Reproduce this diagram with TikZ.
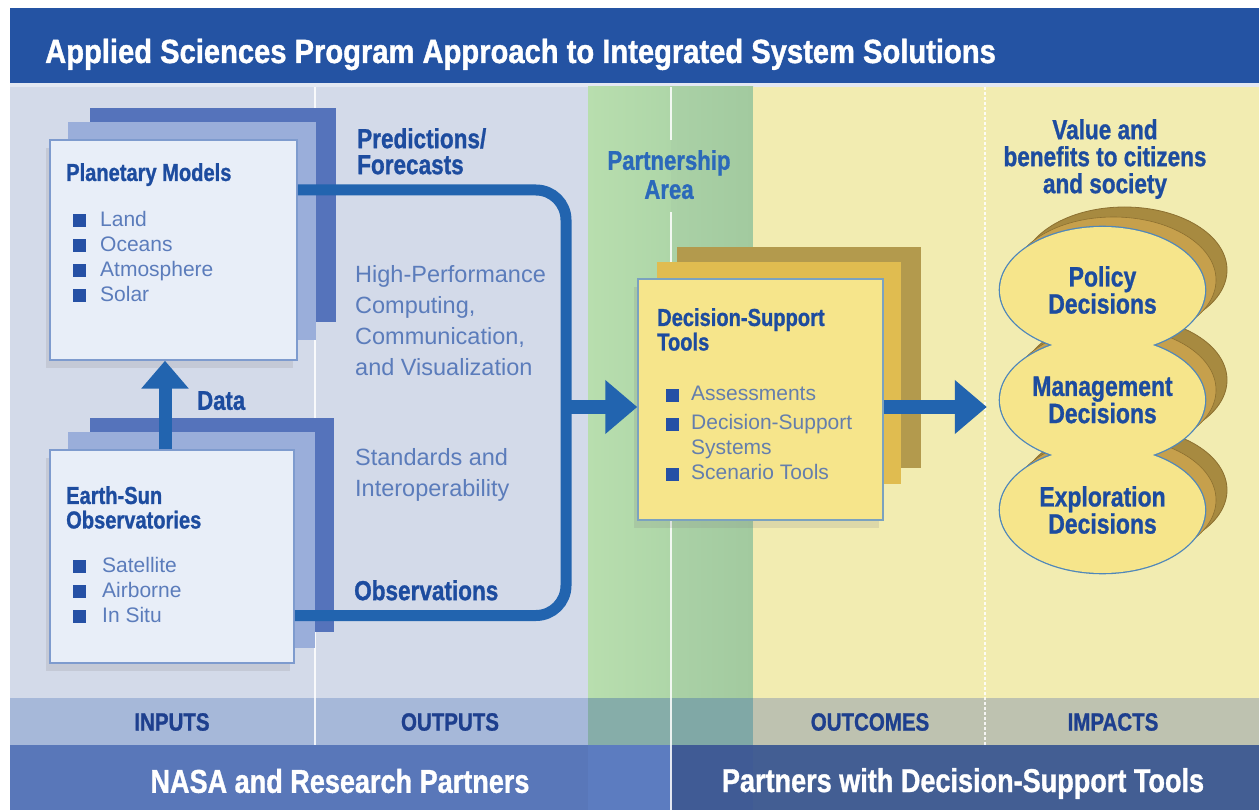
\documentclass[tikz,border=0pt]{standalone}
\usepackage{fontspec}
\setmainfont{Liberation Sans}
\newfontfamily\cndf{Liberation Sans}[FakeStretch=0.82, BoldFeatures={FakeBold=1.0}]
\newfontfamily\ttlf{Liberation Sans}[FakeStretch=0.87, BoldFeatures={FakeBold=1.2}]
\usetikzlibrary{arrows.meta,shapes.geometric,shadows}
\definecolor{titleblue}{HTML}{2453A3}
\definecolor{lightstrip}{HTML}{E3E8F2}
\definecolor{bodyblue}{HTML}{D3DAE9}
\definecolor{greenA}{HTML}{B8DEAE}
\definecolor{greenB}{HTML}{AED6A8}
\definecolor{greenC}{HTML}{AAD1A6}
\definecolor{greenD}{HTML}{A2CA9F}
\definecolor{bodyyellow}{HTML}{F2ECB1}
\definecolor{rowblue}{HTML}{A6B8D9}
\definecolor{rowteal}{HTML}{86ADA9}
\definecolor{rowtealB}{HTML}{80A8A6}
\definecolor{rowgray}{HTML}{BEC2B0}
\definecolor{botblue}{HTML}{5977B9}
\definecolor{botblueA}{HTML}{5C7CC0}
\definecolor{botdark}{HTML}{435E93}
\definecolor{botdarkB}{HTML}{405B95}
\definecolor{navy}{HTML}{1E3F8E}
\definecolor{darkblue}{HTML}{1D4C9F}
\definecolor{partblue}{HTML}{2B69BA}
\definecolor{lightblue}{HTML}{5B7CBB}
\definecolor{dstgray}{HTML}{647EAD}
\definecolor{flowblue}{HTML}{2264AF}
\definecolor{bulletblue}{HTML}{2550A5}
\definecolor{backdark}{HTML}{5573BB}
\definecolor{backmid}{HTML}{9AAEDA}
\definecolor{frontfill}{HTML}{E8EEF8}
\definecolor{frontborder}{HTML}{7E9BCE}
\definecolor{goldD}{HTML}{B39A4D}
\definecolor{goldM}{HTML}{E0BC50}
\definecolor{dstfill}{HTML}{F6E58B}
\definecolor{dstborder}{HTML}{7BA2BF}
\definecolor{brownD}{HTML}{A78A40}
\definecolor{brownM}{HTML}{C6A04C}
\definecolor{brownE}{HTML}{8C7030}
\definecolor{ellyellow}{HTML}{F6E58B}
\definecolor{elledge}{HTML}{4F87BA}
\newcommand\fsz[2]{\fontsize{#1pt}{#2pt}\selectfont}
\newcommand\blt[1]{\makebox[#1pt][l]{\textcolor{bulletblue}{\rule[-1pt]{13pt}{13pt}}}}
\begin{document}
\begin{tikzpicture}[x=1pt,y=-1pt,
  txt/.style={inner sep=0pt, anchor=north west, align=left},
  boldlbl/.style={txt, text=darkblue, font=\cndf\bfseries\fsz{27.5}{26}},
  boxtitle/.style={txt, text=darkblue, font=\cndf\bfseries\fsz{24.5}{24.5}},
  bullist/.style={txt, text=lightblue, font=\fsz{21}{25}},
  regtxt/.style={txt, text=lightblue, font=\fsz{23.5}{31}},
  rowlbl/.style={inner sep=0pt, text=navy, font=\cndf\bfseries\fsz{25}{25}},
  botlbl/.style={inner sep=0pt, text=white, font=\cndf\bfseries\fsz{33}{33}},
  frontbox/.style={draw=frontborder, line width=1.5pt, fill=frontfill, inner sep=0pt,
     drop shadow={shadow xshift=-4pt, shadow yshift=-8pt, opacity=0.18}},
  dstbox/.style={draw=dstborder, line width=1.5pt, fill=dstfill, inner sep=0pt,
     drop shadow={shadow xshift=-4pt, shadow yshift=-8pt, opacity=0.18}},
  flow/.style={draw=flowblue, line width=11pt},
  bigarrow/.style={draw=flowblue, line width=13pt, -{Triangle[length=32pt,width=52pt]}},
  ellnode/.style={ellipse, fill=ellyellow, minimum width=205pt, minimum height=126pt,
     inner xsep=-40pt, inner ysep=0pt, text=darkblue, align=center,
     font=\cndf\bfseries\fsz{28}{26}},
  divider/.style={draw=white, line width=1.2pt, opacity=0.85}
]
\useasboundingbox (0,0) rectangle (1259,810);
\fill[white] (0,0) rectangle (1259,810);
% ---- title bar
\fill[titleblue] (10,8) rectangle (1259,83);
\fill[lightstrip] (10,83) rectangle (1259,87);
\node[anchor=base west, inner sep=0pt, text=white, font=\ttlf\bfseries\fsz{33.5}{34}] (title) at (45,63)
  {Applied Sciences Program Approach to Integrated System Solutions};
% ---- body regions
\fill[bodyblue] (10,87) rectangle (588,698);
\shade[left color=greenA, right color=greenB] (588,87) rectangle (671,698);
\shade[left color=greenC, right color=greenD] (671,87) rectangle (753,698);
\fill[bodyyellow] (753,87) rectangle (1259,698);
% ---- label row
\fill[rowblue] (10,698) rectangle (588,745);
\fill[rowteal] (588,698) rectangle (671,745);
\fill[rowtealB] (671,698) rectangle (753,745);
\fill[rowgray] (753,698) rectangle (1259,745);
% ---- bottom row
\fill[botblue] (10,745) rectangle (588,810);
\fill[botblueA] (588,745) rectangle (671,810);
\fill[botdarkB] (671,745) rectangle (753,810);
\fill[botdark] (753,745) rectangle (1259,810);
% ---- dividers
\draw[divider] (315,87) -- (315,745);
\draw[divider] (671,87) -- (671,140);
\draw[divider] (671,212) -- (671,810);
\draw[divider, dash pattern=on 3pt off 2pt] (985,87) -- (985,745);
% ---- row labels
\node[rowlbl] (inp) at (172,722) {INPUTS};
\node[rowlbl] (outp) at (450,722) {OUTPUTS};
\node[rowlbl] (outc) at (870,722) {OUTCOMES};
\node[rowlbl] (imp) at (1113,722) {IMPACTS};
\node[botlbl] (nasa) at (340,781) {NASA and Research Partners};
\node[botlbl, anchor=base] (pdst) at (963,792) {Partners with Decision-Support Tools};
% ---- Planetary models stack
\fill[backdark] (90,108) rectangle (336,322);
\fill[backmid] (68,122) rectangle (316,340);
\node[frontbox, minimum width=247pt, minimum height=220pt] (pm) at (173.5,250) {};
\node[boxtitle] (pmt) at (66,163) {Planetary Models};
\node[bullist] (pml) at (73,211) {\blt{27}Land\\\blt{27}Oceans\\\blt{27}Atmosphere\\\blt{27}Solar};
% ---- Earth-Sun stack
\fill[backdark] (90,418) rectangle (334,632);
\fill[backmid] (68,432) rectangle (315,648);
\node[frontbox, minimum width=244pt, minimum height=213pt] (es) at (172,556.5) {};
\node[boxtitle] (est) at (66,486) {Earth-Sun\\Observatories};
\node[bullist] (esl) at (73,557) {\blt{29}Satellite\\\blt{29}Airborne\\\blt{29}In Situ};
% ---- Data arrow
\draw[bigarrow, -{Triangle[length=28pt,width=46pt]}] ([xshift=-7pt]es.north) -- ([xshift=-8.5pt]pm.south);
\node[boldlbl, font=\cndf\bfseries\fsz{27}{26}] (data) at (197,391) {Data};
% ---- Decision-support stack
\fill[goldD] (677,247) rectangle (921,468);
\fill[goldM] (657,262) rectangle (901,484);
\node[dstbox, minimum width=245pt, minimum height=241pt] (dst) at (760.5,399.5) {};
\node[boxtitle] (dstt) at (657,308) {Decision-Support\\Tools};
\node[bullist, text=dstgray] (dstl) at (666,386)
  {\blt{25}Assessments\\[4pt]\blt{25}Decision-Support\\\hspace*{25pt}Systems\\\blt{25}Scenario Tools};
% ---- outputs texts
\node[boldlbl] (pred) at (357,128) {Predictions/\\Forecasts};
\node[regtxt] (hpc) at (355,265) {High-Performance\\Computing,\\Communication,\\and Visualization};
\node[regtxt] (std) at (355,448) {Standards and\\Interoperability};
\node[boldlbl] (obs) at (354,580) {Observations};
\node[boldlbl, anchor=north, align=center, text=partblue, font=\cndf\bfseries\fsz{27}{29}] (part) at (669,150) {Partnership\\Area};
% ---- flow lines
\coordinate (junc) at (566,407);
\draw[flow, rounded corners=30pt] ([yshift=60pt]pm.east) -| (junc) |- ([yshift=-59pt]es.east);
\draw[bigarrow] (junc) -- (dst.west |- junc);
% ---- impacts
\node[boldlbl, anchor=north, align=center, font=\cndf\bfseries\fsz{27.5}{27}] (val) at (1105,119)
  {Value and\\benefits to citizens\\and society};
\foreach \cy in {290,400,510} {
  \fill[brownD, draw=brownE, line width=0.8pt] (1124.5,{\cy-20}) ellipse [x radius=102.5pt, y radius=63pt];
}
\foreach \cy in {290,400,510} {
  \fill[brownM, draw=brownE, line width=0.6pt] (1113.5,{\cy-10}) ellipse [x radius=102.5pt, y radius=63pt];
}
\foreach \cy in {290,400,510} {
  \draw[elledge, line width=2.6pt] (1102.5,\cy) ellipse [x radius=102.5pt, y radius=63pt];
}
\node[ellnode] (pol) at (1102.5,290) {Policy\\Decisions};
\node[ellnode] (mg) at (1102.5,400) {Management\\Decisions};
\node[ellnode] (ex) at (1102.5,510) {Exploration\\Decisions};
\draw[bigarrow, shorten >=13pt] (dst.east |- junc) -- (mg.west |- junc);
\end{tikzpicture}
\end{document}
